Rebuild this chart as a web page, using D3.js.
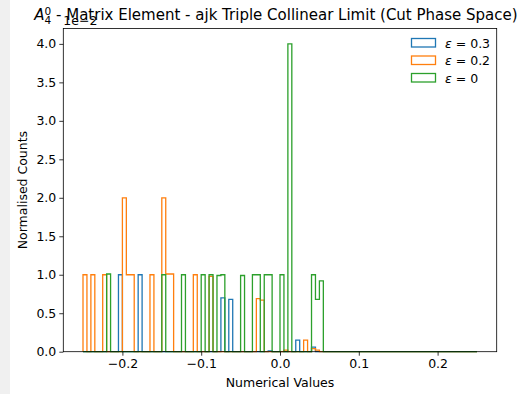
<!DOCTYPE html>
<html>
<head>
<meta charset="utf-8">
<script src="https://cdn.jsdelivr.net/npm/d3@7/dist/d3.min.js"></script>
<style>
  body { margin: 0; background: #f0f0f0; }
  svg { display: block; font-family: 'DejaVu Sans', sans-serif; }
</style>
</head>
<body>
<div class="container"></div>
<script>
// histogram bins shared by all three series
const binRange = [-0.25, 0.25];
const binCount = 100;

// sparse bin contents: [bin left edge, normalised count (x1e-2)]
const eps03 = [
    [-0.205, 1.0], [-0.18, 1.0], [-0.075, 0.70], [-0.065, 0.68],
    [-0.015, 0.01], [0.02, 0.15], [0.04, 0.06]
];
const eps02 = [
    [-0.25, 1.0], [-0.24, 1.0], [-0.225, 1.0], [-0.2, 2.0], [-0.195, 1.0],
    [-0.19, 1.0], [-0.165, 1.0], [-0.15, 2.0], [-0.145, 1.01], [-0.14, 1.01],
    [-0.11, 1.0], [-0.09, 0.98], [-0.03, 0.69], [-0.025, 0.67],
    [0.005, 0.02], [0.03, 0.15], [0.04, 0.04], [0.045, 0.02]
];
const eps0 = [
    [-0.22, 1.01], [-0.15, 1.0], [-0.125, 1.0], [-0.1, 1.0], [-0.09, 1.0],
    [-0.08, 0.99], [-0.075, 1.0], [-0.05, 0.99], [-0.035, 1.0], [-0.03, 1.0],
    [-0.02, 1.0], [-0.015, 1.0], [0.0, 1.0], [0.01, 4.0],
    [0.04, 1.0], [0.045, 0.68], [0.05, 0.92]
];

const seriesNames = ['\u03b5 = 0.3', '\u03b5 = 0.2', '\u03b5 = 0'];
const seriesColors = ['#1f77b4', '#ff7f0e', '#2ca02c'];
const xTicks = [-0.2, -0.1, 0.0, 0.1, 0.2];
const yTicks = [0, 0.5, 1.0, 1.5, 2.0, 2.5, 3.0, 3.5, 4.0];

function chart() {
    const width = 529, height = 394;
    const margin = {top: 28.5, right: 32.3, bottom: 42.3, left: 63.3};
    const fs = 12.5;

    const svg = d3.select('.container')
        .append('svg')
        .attr('width', width)
        .attr('height', height);

    svg.append('rect').attr('x', 10).attr('width', width - 10).attr('height', height).attr('fill', '#fff');

    const x = d3.scaleLinear().domain([-0.275, 0.275]).range([margin.left, width - margin.right]);
    const y = d3.scaleLinear().domain([0, 4.2]).range([height - margin.bottom, margin.top]);

    const binW = (binRange[1] - binRange[0]) / binCount;
    const edges = d3.range(binCount + 1).map(i => binRange[0] + i * binW);

    function counts(sparse) {
        const c = new Array(binCount).fill(0);
        sparse.forEach(([left, v]) => {
            c[Math.round((left - binRange[0]) / binW)] = v;
        });
        return c;
    }

    // step outline like histtype='step'
    function outline(c) {
        const pts = [[edges[0], 0]];
        c.forEach((v, i) => { pts.push([edges[i], v]); pts.push([edges[i + 1], v]); });
        pts.push([edges[binCount], 0]);
        return pts;
    }

    const line = d3.line().x(d => x(d[0])).y(d => y(d[1]));

    const plot = svg.append('g');
    [eps03, eps02, eps0].forEach((s, i) => {
        plot.append('path')
            .attr('d', line(outline(counts(s))))
            .attr('fill', 'none')
            .attr('stroke', seriesColors[i])
            .attr('stroke-width', 1.3)
            .attr('stroke-linejoin', 'miter');
    });

    const fmt = d => d3.format('.1f')(d).replace('-', '\u2212');

    const xAxis = svg.append('g')
        .attr('transform', `translate(0,${height - margin.bottom})`)
        .call(d3.axisBottom(x).tickValues(xTicks).tickFormat(fmt).tickSize(4).tickPadding(3));
    const yAxis = svg.append('g')
        .attr('transform', `translate(${margin.left},0)`)
        .call(d3.axisLeft(y).tickValues(yTicks).tickFormat(fmt).tickSize(4).tickPadding(3));

    [xAxis, yAxis].forEach(a => {
        a.select('.domain').remove();
        a.selectAll('line').attr('stroke', '#000').attr('stroke-width', 0.8);
        a.selectAll('text').attr('font-size', fs).attr('fill', '#000').attr('font-family', 'DejaVu Sans');
    });

    // frame
    svg.append('rect')
        .attr('x', margin.left).attr('y', margin.top)
        .attr('width', width - margin.left - margin.right)
        .attr('height', height - margin.top - margin.bottom)
        .attr('fill', 'none').attr('stroke', '#000').attr('stroke-width', 0.8);

    // labels
    svg.append('text')
        .attr('x', (margin.left + width - margin.right) / 2).attr('y', 387)
        .attr('text-anchor', 'middle').attr('font-size', fs)
        .text('Numerical Values');
    svg.append('text')
        .attr('transform', `translate(27,${(margin.top + height - margin.bottom) / 2}) rotate(-90)`)
        .attr('text-anchor', 'middle').attr('font-size', fs)
        .text('Normalised Counts');

    const title = svg.append('text')
        .attr('x', (margin.left + width - margin.right) / 2 - 4).attr('y', 20)
        .attr('text-anchor', 'middle').attr('font-size', 15);
    title.append('tspan').attr('font-style', 'italic').text('A');
    title.append('tspan').attr('font-size', 10.5).attr('dy', -5.5).text('0');
    title.append('tspan').attr('font-size', 10.5).attr('dx', -6.7).attr('dy', 9).text('4');
    title.append('tspan').attr('dy', -3.5).text(' - Matrix Element - ajk Triple Collinear Limit (Cut Phase Space)');

    svg.append('text')
        .attr('x', margin.left).attr('y', 25)
        .attr('font-size', fs)
        .text('1e\u22122');

    // legend
    const legend = svg.append('g').attr('transform', 'translate(411,38)');
    seriesNames.forEach((name, i) => {
        const g = legend.append('g').attr('transform', `translate(0,${i * 17.5})`);
        g.append('rect').attr('x', 0.5).attr('y', 0.5).attr('width', 24).attr('height', 8.5)
            .attr('fill', 'none').attr('stroke', seriesColors[i]).attr('stroke-width', 1.3);
        const t = g.append('text').attr('x', 34).attr('y', 9.5).attr('font-size', fs);
        t.append('tspan').attr('font-style', 'italic').text('\u03b5');
        t.append('tspan').text(name.slice(1));
    });

    return svg.node();
}

chart();
</script>
</body>
</html>
